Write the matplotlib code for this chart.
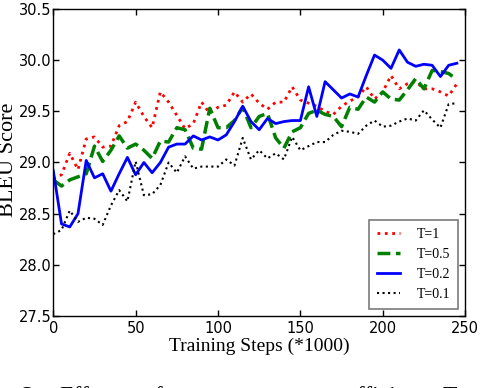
import numpy as np
import matplotlib
matplotlib.use("Agg")
import matplotlib.pyplot as plt

# training steps (*1000)
steps = list(range(0, 250, 5))

bleu_t1 = [28.84, 28.88, 29.09, 28.93, 29.23, 29.25, 29.15, 29.16, 29.36, 29.40,
           29.59, 29.45, 29.34, 29.69, 29.59, 29.46, 29.33, 29.38, 29.59, 29.48,
           29.54, 29.56, 29.69, 29.59, 29.67, 29.58, 29.52, 29.59, 29.59, 29.74,
           29.61, 29.58, 29.55, 29.50, 29.47, 29.55, 29.60, 29.64, 29.74, 29.62,
           29.69, 29.85, 29.72, 29.77, 29.79, 29.72, 29.72, 29.69, 29.65, 29.77]
bleu_t05 = [28.83, 28.77, 28.83, 28.86, 28.89, 29.16, 29.01, 29.12, 29.26, 29.14,
            29.18, 29.12, 29.04, 29.21, 29.20, 29.34, 29.32, 29.14, 29.13, 29.53,
            29.34, 29.34, 29.41, 29.54, 29.34, 29.45, 29.48, 29.24, 29.14, 29.30,
            29.34, 29.48, 29.51, 29.47, 29.45, 29.35, 29.54, 29.52, 29.64, 29.59,
            29.69, 29.62, 29.61, 29.71, 29.82, 29.72, 29.90, 29.89, 29.87, 29.81]
bleu_t02 = [28.92, 28.40, 28.37, 28.50, 29.02, 28.85, 28.89, 28.72, 28.89, 29.05,
            28.88, 29.00, 28.90, 29.00, 29.15, 29.18, 29.18, 29.26, 29.22, 29.25,
            29.22, 29.27, 29.40, 29.55, 29.40, 29.32, 29.43, 29.38, 29.40, 29.41,
            29.41, 29.74, 29.45, 29.79, 29.71, 29.63, 29.67, 29.64, 29.85, 30.05,
            30.00, 29.92, 30.10, 29.98, 29.94, 29.96, 29.95, 29.84, 29.95, 29.97]
bleu_t01 = [28.30, 28.34, 28.53, 28.42, 28.46, 28.45, 28.39, 28.58, 28.73, 28.62,
            29.01, 28.68, 28.69, 28.78, 29.00, 28.90, 29.06, 28.94, 28.96, 28.96,
            28.96, 29.03, 28.97, 29.24, 29.03, 29.12, 29.04, 29.09, 29.03, 29.25,
            29.12, 29.16, 29.20, 29.20, 29.27, 29.31, 29.30, 29.28, 29.36, 29.41,
            29.35, 29.36, 29.40, 29.43, 29.41, 29.51, 29.42, 29.34, 29.57, 29.58]

xticks = [0, 50, 100, 150, 200, 250]
yticks = [27.5, 28.0, 28.5, 29.0, 29.5, 30.0, 30.5]

serif = ["Liberation Serif", "DejaVu Serif"]

fig = plt.figure(figsize=(4.8, 3.88), dpi=100)
ax = fig.add_axes([0.111, 0.1856, 0.858, 0.7912])

ax.plot(steps, bleu_t1, color="r", linestyle=":", linewidth=2.0, label="T=1")
ax.plot(steps, bleu_t05, color="g", linestyle="--", linewidth=2.5, label="T=0.5")
ax.plot(steps, bleu_t02, color="b", linestyle="-", linewidth=2.0, label="T=0.2")
ax.plot(steps, bleu_t01, color="k", linestyle=":", linewidth=1.5, label="T=0.1")

ax.set_xlim(0, 250)
ax.set_ylim(27.5, 30.5)
ax.set_xticks(xticks)
ax.set_yticks(yticks)
ax.set_xticklabels([str(t) for t in xticks])
ax.set_yticklabels(["%.1f" % t for t in yticks])
ax.tick_params(direction="in", top=True, right=True, length=4, width=1,
               labelsize=10.5)
ax.tick_params(axis="x", pad=3.5)
ax.tick_params(axis="y", pad=1)
for s in ax.spines.values():
    s.set_linewidth(1.0)

ax.set_xlabel("Training Steps (*1000)", family=serif, fontsize=14, labelpad=1)
ax.set_ylabel("BLEU Score", family=serif, fontsize=16)
ax.yaxis.set_label_coords(-0.086, 0.51)

leg = ax.legend(loc="lower right", prop={"family": serif, "size": 10},
                fancybox=False, handlelength=1.6, handletextpad=1.2,
                borderpad=0.6, labelspacing=0.5, borderaxespad=0.5)
leg.get_frame().set_edgecolor("0.35")
leg.get_frame().set_linewidth(1.2)

# caption of the paper figure, cut off by the bottom of the image
caption_y = (388 - 402.4) / 388.0
for word, px in [("3:", 22), ("Effect", 59), ("of", 143), ("temperature", 182),
                 ("coefficient", 324), ("T", 443)]:
    fig.text(px / 480.0, caption_y, word, family=serif, fontsize=17,
             va="baseline", ha="left")

fig.savefig("out.png", dpi=100)
